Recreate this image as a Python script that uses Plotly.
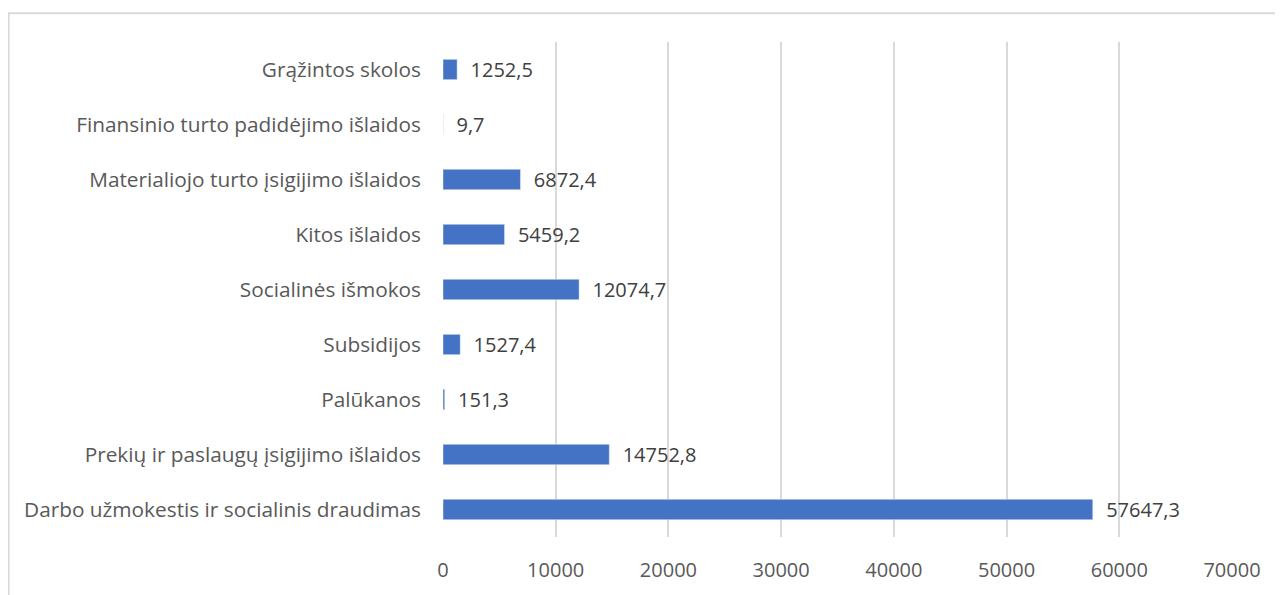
import plotly.graph_objects as go

categories = [
    "Darbo užmokestis ir socialinis draudimas",
    "Prekių ir paslaugų įsigijimo išlaidos",
    "Palūkanos",
    "Subsidijos",
    "Socialinės išmokos",
    "Kitos išlaidos",
    "Materialiojo turto įsigijimo išlaidos",
    "Finansinio turto padidėjimo išlaidos",
    "Grąžintos skolos",
]
values = [57647.3, 14752.8, 151.3, 1527.4, 12074.7, 5459.2, 6872.4, 9.7, 1252.5]
x_ticks = [0, 10000, 20000, 30000, 40000, 50000, 60000, 70000]

labels = ["  " + f"{v:.1f}".replace(".", ",") for v in values]

# page body has an 8px margin
W, H = 1275, 587
ml, mr, mt, mb = 435, 51, 34, 53

fig = go.Figure(go.Bar(
    y=categories, x=values, orientation="h",
    marker=dict(color="#4472C4"),
    width=0.37,
    text=labels, textposition="outside", cliponaxis=False,
    constraintext="none",
    textfont=dict(color="#404040", size=20, family="Open Sans"),
))

pw = W - ml - mr
ph = H - mt - mb
x0 = (0.6 - ml) / pw
ytop = 1 + (mt - 5) / ph

fig.update_layout(
    width=W, height=H,
    margin=dict(l=ml, r=mr, t=mt, b=mb),
    paper_bgcolor="white", plot_bgcolor="white",
    font=dict(family="Open Sans", size=20, color="#595959"),
    showlegend=False,
    shapes=[dict(type="path", xref="paper", yref="paper",
                 path=f"M {x0},-0.3 L {x0},{ytop} L 1.2,{ytop}",
                 line=dict(color="#D9D9D9", width=2))],
)
fig.update_xaxes(range=[0, 70000], tickvals=x_ticks, ticktext=[str(t) for t in x_ticks],
                 showgrid=True, gridcolor="#D9D9D9", gridwidth=2,
                 zeroline=False, showline=False, ticks="", ticklabelstandoff=19,
                 tickfont=dict(size=20, color="#595959"))
fig.update_yaxes(showgrid=False, zeroline=False, showline=False, ticks="",
                 ticklabelstandoff=21, tickfont=dict(size=20.8, color="#595959"))

fig.write_html("out.html")
